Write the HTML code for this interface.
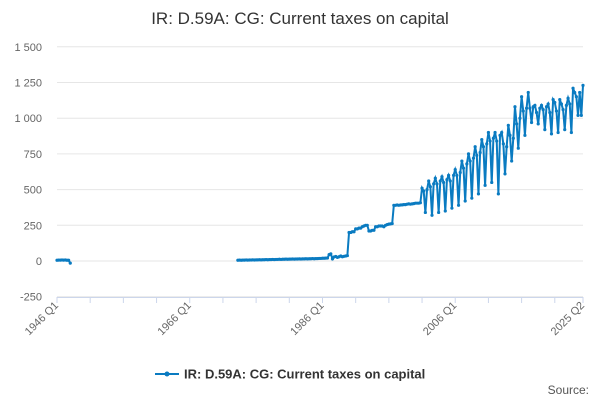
<!DOCTYPE html>
<html><head><meta charset="utf-8"><style>
body{margin:0;background:#fff;font-family:"Liberation Sans",sans-serif}
svg text{font-family:"Liberation Sans",sans-serif}
</style></head><body>
<svg id="chart" width="600" height="400">
<text x="300" y="24" text-anchor="middle" font-size="17" fill="#333">IR: D.59A: CG: Current taxes on capital</text>
<g id="grid"></g><g id="xaxis"></g><g id="series"></g>
<g>
<line x1="155" y1="374" x2="179" y2="374" stroke="#0a7bc1" stroke-width="2"/>
<circle cx="167" cy="374" r="2.5" fill="#0a7bc1"/>
<text x="184" y="378.5" font-size="13" font-weight="bold" fill="#333">IR: D.59A: CG: Current taxes on capital</text>
</g>
<text x="589" y="394" text-anchor="end" font-size="12" fill="#555">Source:</text>
</svg>
<script>
const yTicks=[-250,0,250,500,750,1000,1250,1500];
const yTickLabels=["-250","0","250","500","750","1 000","1 250","1 500"];
const xTickLabels=["1946 Q1","1966 Q1","1986 Q1","2006 Q1","2025 Q2"];
const xTickIdx=[0,80,160,240,317];
const seg1Start=0;
const seg1=[5,6,6,7,6,7,5,5,-15];
const seg2Start=109;
const seg2=[5,6,5,6,6,7,6,7,7,8,7,8,8,9,8,9,9,10,9,10,10,11,10,11,11,12,11,12,12,13,12,13,13,14,13,14,14,15,14,15,15,16,15,16,16,17,16,17,17,18,18,19,19,20,21,45,50,
15,28,32,25,30,35,30,33,35,38,
200,200,205,205,225,225,230,230,240,245,250,250,210,210,215,215,240,240,245,245,245,240,250,255,258,260,262,
390,390,392,390,392,393,395,395,398,400,398,400,402,405,405,405,408,
510,490,340,500,560,520,320,540,580,540,340,560,590,550,350,570,600,560,370,600,640,600,390,620,700,650,420,680,750,700,440,720,800,740,470,760,850,800,530,820,900,840,550,860,900,840,470,880,900,820,610,800,950,880,700,860,1080,960,790,1000,1150,1050,880,1070,1180,1070,970,1080,1090,1040,960,1070,1090,1060,920,1080,1100,1040,890,1130,
1110,1050,900,1130,1100,1060,920,1090,1140,1100,900,1210,1180,1150,1020,1180,1020,1230];
const X0=57,X1=583,NQ=317,Y0=261,PPU=35.7/250;
const xs=i=>X0+i*(X1-X0)/NQ, ys=v=>Y0-v*PPU;
const NS="http://www.w3.org/2000/svg";
function mk(t,a,p){const e=document.createElementNS(NS,t);for(const k in a)e.setAttribute(k,a[k]);p.appendChild(e);return e;}
const grid=document.getElementById('grid');
yTicks.forEach((v,i)=>{
 const l=mk('line',{x1:X0,x2:X1,y1:ys(v),y2:ys(v),stroke:'#e6e6e6'},grid);
 
 
 const t=mk('text',{x:42,y:ys(v)+4,'text-anchor':'end','font-size':11,fill:'#666'},grid);
 t.textContent=yTickLabels[i];
 
 
});
const xa=document.getElementById('xaxis');
mk('line',{x1:X0,x2:X1,y1:297.5,y2:297.5,stroke:'#ccd6eb'},xa);
for(let i=0;i<=NQ;i+=20){mk('line',{x1:xs(i),x2:xs(i),y1:297,y2:303,stroke:'#ccd6eb'},xa);}
mk('line',{x1:X1,x2:X1,y1:297,y2:303,stroke:'#ccd6eb'},xa);
xTickIdx.forEach((q,i)=>{
 const x=xs(q)+2,y=306;
 const t=mk('text',{x:x,y:y,'text-anchor':'end','font-size':11,fill:'#666',transform:`rotate(-45 ${x} ${y})`},xa);
 t.textContent=xTickLabels[i];
 
 
});
const sg=document.getElementById('series');
[[seg1Start,seg1],[seg2Start,seg2]].forEach(([s,arr])=>{
 const d=arr.map((v,i)=>(i?'L':'M')+xs(s+i).toFixed(2)+' '+ys(v).toFixed(2)).join('');
 const p=mk('path',{d:d,fill:'none',stroke:'#0a7bc1','stroke-width':2},sg);
 
 
 arr.forEach((v,i)=>{
  const c=mk('circle',{cx:xs(s+i),cy:ys(v),r:1.6,fill:'#0a7bc1'},sg);
  
  
 });
});
</script>
</body></html>
